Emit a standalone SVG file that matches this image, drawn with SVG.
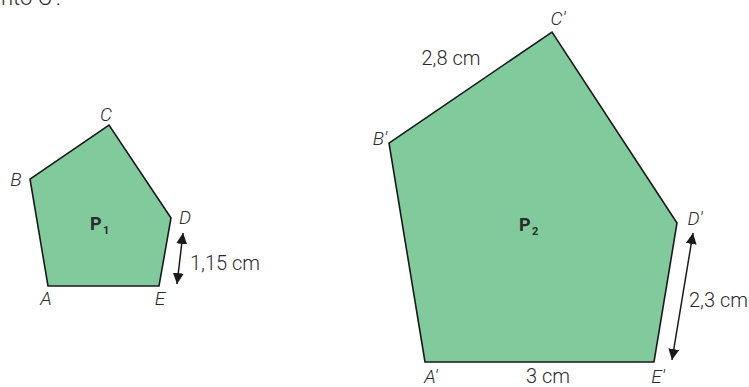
<svg xmlns="http://www.w3.org/2000/svg" width="749" height="387" viewBox="0 0 749 387">
<style>
text{font-family:Roboto,"Liberation Sans",sans-serif;fill:#2b2b2b;font-size:20px}
.v{font-style:italic;font-weight:300;font-size:19px}
.m{font-weight:300}
.p{font-weight:bold;font-size:18px}
.s{font-weight:bold;font-size:11px}
.poly{fill:#80ca9c;stroke:#1a1a1a;stroke-width:1.6;stroke-linejoin:miter}
.arr{stroke:#1a1a1a;stroke-width:1.5;fill:none;marker-start:url(#ah);marker-end:url(#ah)}
</style>
<defs>
<marker id="ah" viewBox="0 0 10 10" refX="10" refY="5" markerWidth="11" markerHeight="11" markerUnits="userSpaceOnUse" orient="auto-start-reverse">
<path d="M0,0 L10,5 L0,10 z" fill="#1a1a1a"/>
</marker>
</defs>
<text x="1" y="5" class="m" style="font-size:22px">nto C'.</text>
<g id="P1">
<polygon class="poly" points="48,286 30,179 109,125 171,218 159,286"/>
<text class="p" x="90" y="230">P</text><text class="s" x="103" y="234">1</text>
</g>
<g id="labels1">
<text class="v" x="106" y="121" text-anchor="middle">C</text>
<text class="v" x="16" y="186" text-anchor="middle">B</text>
<text class="v" x="185" y="224" text-anchor="middle">D</text>
<text class="v" x="46" y="305" text-anchor="middle">A</text>
<text class="v" x="160" y="305" text-anchor="middle">E</text>
<text class="m" x="190" y="270">1,15 cm</text>
</g>
<g id="P2">
<polygon class="poly" points="425,362 389,143 552,32 677,223 654,362"/>
<text class="p" x="519" y="231">P</text><text class="s" x="532" y="235">2</text>
</g>
<g id="labels2">
<text class="v" x="558" y="25" text-anchor="middle">C'</text>
<text class="v" x="380" y="145" text-anchor="middle">B'</text>
<text class="v" x="695" y="225" text-anchor="middle">D'</text>
<text class="v" x="431" y="383" text-anchor="middle">A'</text>
<text class="v" x="658" y="383" text-anchor="middle">E'</text>
<text class="m" x="451" y="65" text-anchor="middle">2,8 cm</text>
<text class="m" x="548" y="383" text-anchor="middle">3 cm</text>
<text class="m" x="689" y="307">2,3 cm</text>
</g>
<g id="connectors">
<line class="arr" x1="183" y1="233" x2="177" y2="284"/>
<line class="arr" x1="693" y1="233" x2="672" y2="360"/>
</g>
</svg>
